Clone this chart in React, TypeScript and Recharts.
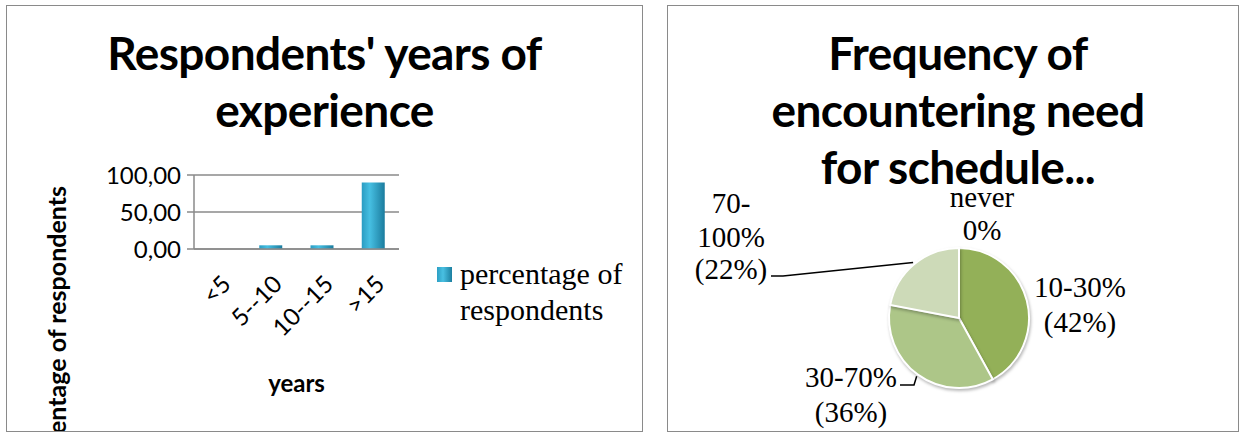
import React from "react";
import { BarChart, Bar, XAxis, YAxis, CartesianGrid, Legend, PieChart, Pie, Cell } from "recharts";

const years = ["<5", "5--10", "10--15", ">15"];
const respondentShare = [0, 5, 5, 90];
const shareTicks = [0, 50, 100];

const frequencyBands = ["never", "10-30%", "30-70%", "70-100%"];
const frequencyShare = [0, 42, 36, 22];
const sliceColors = ["#93b058", "#93b058", "#adc688", "#cddab8"];

const barData = years.map((range, i) => ({ range, share: respondentShare[i] }));
const pieData = frequencyBands.map((band, i) => ({ band, share: frequencyShare[i] }));

const SANS = "Lato, 'Open Sans', sans-serif";
const SERIF = "'Liberation Serif', 'DejaVu Serif', serif";

// where each slice label sits, relative to the pie centre
const pieLabelLayout = [
  { dx: 23, rows: [-121, -88], wrap: false, elbow: null as number[][] | null },
  { dx: 121, rows: [-31, 4], wrap: false, elbow: null },
  { dx: -108, rows: [59, 94], wrap: false, elbow: [[-59, 67], [-45, 67]] },
  { dx: -228, rows: [-115, -81, -49], wrap: true, elbow: [[-188, -42], [-176, -42]] },
];

const formatShare = (v: number) => v.toFixed(2).replace(".", ",");

function labelLines(i: number) {
  const band = frequencyBands[i];
  const v = frequencyShare[i];
  if (v === 0) return [band, `${v}%`];
  const pct = `(${v}%)`;
  return pieLabelLayout[i].wrap ? [band.slice(0, 3), band.slice(3), pct] : [band, pct];
}

function renderSliceLabel(props: any) {
  const { cx, cy, midAngle, outerRadius, index } = props;
  const layout = pieLabelLayout[index];
  if (!layout) return null;
  const rad = (-midAngle * Math.PI) / 180;
  const ex = cx + Math.cos(rad) * (outerRadius + 2);
  const ey = cy + Math.sin(rad) * (outerRadius + 2);
  const lines = labelLines(index);
  return (
    <g key={`lbl-${index}`}>
      {layout.elbow && (
        <polyline
          points={[...layout.elbow.map(([x, y]) => `${cx + x},${cy + y}`), `${ex},${ey}`].join(" ")}
          fill="none"
          stroke="#000"
          strokeWidth={1.5}
        />
      )}
      {lines.map((line, j) => (
        <text
          key={j}
          x={cx + layout.dx}
          y={cy + layout.rows[j]}
          textAnchor="middle"
          dominantBaseline="central"
          fontFamily={SERIF}
          fontSize={29}
          fill="#000"
        >
          {line}
        </text>
      ))}
    </g>
  );
}

function YearTick({ x, y, payload }: any) {
  return (
    <g transform={`translate(${x + 6},${y + 22})`}>
      <text transform="rotate(-45)" textAnchor="end" dominantBaseline="central" fontFamily={SANS} fontSize={24} fill="#000">
        {payload.value}
      </text>
    </g>
  );
}

function ShareAxisTitle() {
  return (
    <text
      transform="translate(49,180) rotate(-90)"
      textAnchor="end"
      dominantBaseline="central"
      fontFamily={SANS}
      fontWeight={700}
      fontSize={25}
      fill="#000"
    >
      percentage of respondents
    </text>
  );
}

function ShareLegend() {
  return (
    <div style={{ display: "flex", alignItems: "flex-start", fontFamily: SERIF, fontSize: 30, lineHeight: "36px", color: "#000" }}>
      <span
        style={{
          width: 15,
          height: 15,
          marginTop: 11,
          marginRight: 8,
          flex: "none",
          background: "linear-gradient(90deg, #2c9fc4, #49c0e2 40%, #1c7fa0)",
        }}
      />
      <span>percentage of respondents</span>
    </div>
  );
}

const panel: React.CSSProperties = {
  position: "absolute",
  top: 5,
  height: 427,
  border: "1px solid #8a8a8a",
  boxSizing: "border-box",
  overflow: "hidden",
  background: "#fff",
};

const titleStyle: React.CSSProperties = {
  position: "absolute",
  left: 0,
  right: 0,
  textAlign: "center",
  fontFamily: SANS,
  fontWeight: 700,
  fontSize: 46,
  lineHeight: "57px",
  letterSpacing: -0.6,
  color: "#000",
};

export default function App() {
  return (
    <div style={{ position: "absolute", left: 0, top: 0, width: 1243, height: 433, background: "#fff" }}>
      <div style={{ ...panel, left: 6, width: 637 }}>
        <div style={{ ...titleStyle, top: 18 }}>
          Respondents' years of
          <br />
          experience
        </div>
        <BarChart width={635} height={425} data={barData} margin={{ top: 169, right: 243, bottom: 152, left: 127 }}>
          <defs>
            <linearGradient id="barFill" x1="0" y1="0" x2="1" y2="0">
              <stop offset="0" stopColor="#2a9cc2" />
              <stop offset="0.35" stopColor="#46bfe2" />
              <stop offset="1" stopColor="#1b7c9e" />
            </linearGradient>
          </defs>
          <CartesianGrid vertical={false} stroke="#8a8a8a" strokeWidth={1.5} />
          <XAxis
            dataKey="range"
            tick={<YearTick />}
            tickLine={false}
            axisLine={{ stroke: "#8a8a8a", strokeWidth: 1.5 }}
            interval={0}
            height={30}
            label={{ value: "years", position: "bottom", offset: 96, fontFamily: SANS, fontWeight: 700, fontSize: 24, fill: "#000" }}
          />
          <XAxis xAxisId="top" orientation="top" dataKey="range" height={0} tick={false} tickLine={false} axisLine={{ stroke: "#000", strokeWidth: 1.5 }} />
          <YAxis
            domain={[0, 100]}
            ticks={shareTicks}
            width={60}
            tickFormatter={formatShare}
            tickSize={7}
            tickMargin={6}
            tickLine={{ stroke: "#8a8a8a", strokeWidth: 1.5 }}
            axisLine={{ stroke: "#8a8a8a", strokeWidth: 1.5 }}
            tick={{ fontFamily: SANS, fontSize: 24, fill: "#000" }}
            label={{ content: () => <ShareAxisTitle /> }}
          />
          <YAxis yAxisId="right" orientation="right" domain={[0, 100]} width={0} tick={false} tickLine={false} axisLine={{ stroke: "#000", strokeWidth: 1.5 }} />
          <Legend
            layout="vertical"
            align="center"
            verticalAlign="middle"
            wrapperStyle={{ left: 430, top: 250, width: 205 }}
            content={() => <ShareLegend />}
          />
          <Bar dataKey="share" name="percentage of respondents" fill="url(#barFill)" barSize={23} isAnimationActive={false} />
        </BarChart>
      </div>

      <div style={{ ...panel, left: 667, width: 572 }}>
        <div style={{ ...titleStyle, left: 10, top: 18 }}>
          Frequency of
          <br />
          encountering need
          <br />
          for schedule...
        </div>
        <PieChart width={570} height={425} margin={{ top: 0, right: 0, bottom: 0, left: 0 }}>
          <Pie
            data={pieData}
            dataKey="share"
            nameKey="band"
            cx={291}
            cy={312}
            outerRadius={70}
            startAngle={90}
            endAngle={-270}
            stroke="#fff"
            strokeWidth={2}
            label={renderSliceLabel}
            labelLine={false}
            isAnimationActive={false}
          >
            {pieData.map((d, i) => (
              <Cell key={d.band} fill={sliceColors[i]} style={{ filter: "drop-shadow(1px 2px 1.5px rgba(0,0,0,0.28))" }} />
            ))}
          </Pie>
        </PieChart>
      </div>
    </div>
  );
}
